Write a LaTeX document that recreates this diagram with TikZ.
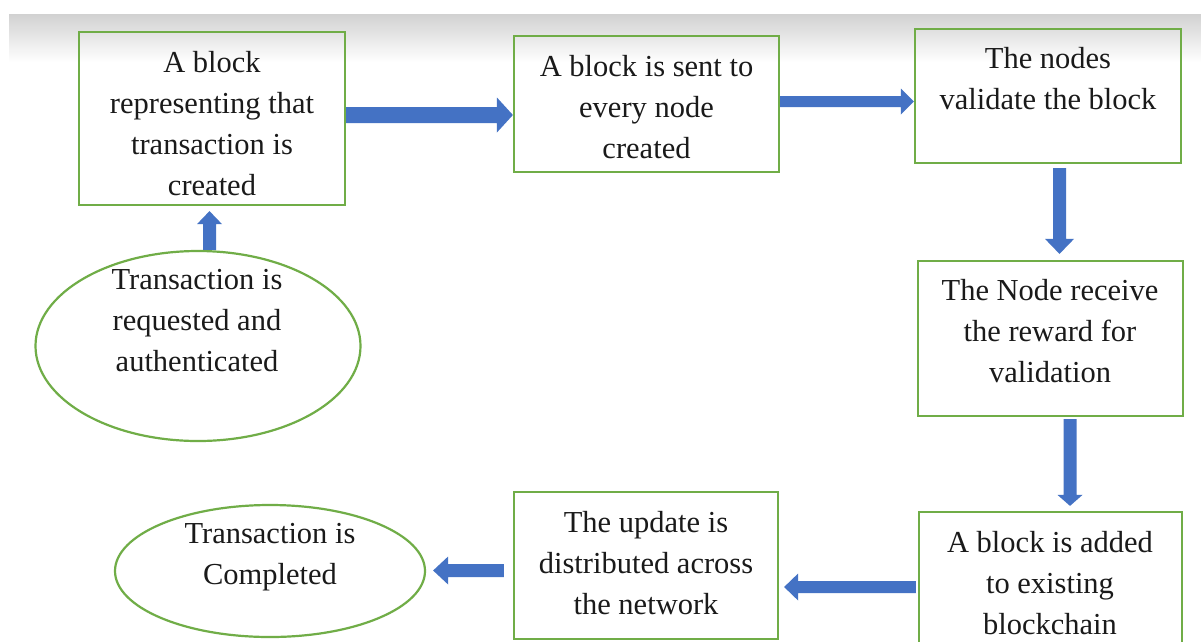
\documentclass[tikz,border=0pt]{standalone}
\usepackage{fontspec}
\setmainfont{Liberation Serif}
\usetikzlibrary{calc,shapes.geometric}

\definecolor{boxgreen}{HTML}{70AD47}
\definecolor{flowblue}{HTML}{4472C4}
\definecolor{inkgray}{HTML}{1A1A1A}

% Block arrow from #1 (tail) to #2 (tip): shaft half-width #3,
% head half-width #4, head length #5.
\newcommand\flowarrow[5]{%
  \coordinate (fa-base) at ($(#2)!#5!(#1)$);
  \fill[flowblue]
    ($(#1)!#3!90:(#2)$) -- ($(fa-base)!#3!90:(#2)$) --
    ($(fa-base)!#4!90:(#2)$) -- (#2) --
    ($(fa-base)!#4!-90:(#2)$) -- ($(fa-base)!#3!-90:(#2)$) --
    ($(#1)!#3!-90:(#2)$) -- cycle;
}

\tikzset{
  stepbox/.style={draw=boxgreen, line width=2.2pt, rectangle, inner sep=0pt},
  oval/.style={draw=boxgreen, line width=2.2pt, ellipse, inner sep=0pt},
  label text/.style={font=\fontsize{30.5}{41}\selectfont, align=center,
    text=inkgray, inner sep=0pt},
}

\begin{document}
\begin{tikzpicture}[x=1pt, y=-1pt]
  \useasboundingbox (0,0) rectangle (1201,641);
  \fill[white] (0,0) rectangle (1201,641);
  % header band
  \shade[top color=black!18, bottom color=white] (9,14) rectangle (1201,62);

  % boxes
  \node[stepbox, minimum width=266pt, minimum height=173pt] (A) at (212,118.5) {};
  \node[stepbox, minimum width=265pt, minimum height=136pt] (B) at (646.5,104) {};
  \node[stepbox, minimum width=266pt, minimum height=134pt] (C) at (1048,96) {};
  \node[stepbox, minimum width=265pt, minimum height=155pt] (D) at (1050.5,338.5) {};
  \node[stepbox, minimum width=263pt, minimum height=160pt] (E) at (1050.5,592) {};
  \node[stepbox, minimum width=264pt, minimum height=147pt] (F) at (646,565.5) {};
  \node[oval, minimum width=325pt, minimum height=190pt] (S) at (198,346) {};
  \node[oval, minimum width=310pt, minimum height=132pt] (T) at (270,571) {};

  % texts
  \node[label text] (At) at (212,124) {A block\\representing that\\transaction is\\created};
  \node[label text] (Bt) at (646.5,107) {A block is sent to\\every node\\created};
  \node[label text] (Ct) at (1048,79) {The nodes\\validate the block};
  \node[label text] (Dt) at (1050,331.5) {The Node receive\\the reward for\\validation};
  \node[label text] (Et) at (1050,583.5) {A block is added\\to existing\\blockchain};
  \node[label text] (Ft) at (646,563) {The update is\\distributed across\\the network};
  \node[label text] (St) at (197,320.5) {Transaction is\\requested and\\authenticated};
  \node[label text] (Tt) at (270,557) {Transaction is\\Completed};

  % connector end points
  \coordinate (s-a1) at (209.5,0 |- S.north);
  \coordinate (s-a2) at ($(209.5,0 |- A.south)+(0,5)$);
  \coordinate (a-b1) at (A.east |- 0,115);
  \coordinate (a-b2) at (B.west |- 0,115);
  \coordinate (b-c1) at (B.east |- 0,101.5);
  \coordinate (b-c2) at (C.west |- 0,101.5);
  \coordinate (c-d1) at ($(1059.5,0 |- C.south)+(0,4)$);
  \coordinate (c-d2) at ($(1059.5,0 |- D.north)+(0,-6)$);
  \coordinate (d-e1) at ($(1070,0 |- D.south)+(0,2)$);
  \coordinate (d-e2) at ($(1070,0 |- E.north)+(0,-5)$);
  \coordinate (e-f1) at ($(E.west |- 0,587)+(-2,0)$);
  \coordinate (e-f2) at ($(F.east |- 0,587)+(5,0)$);
  \coordinate (f-t1) at ($(F.west |- 0,570.5)+(-9,0)$);
  \coordinate (f-t2) at ($(T.east |- 0,570.5)+(7,0)$);

  % connectors
  \flowarrow{s-a1}{s-a2}{6.5pt}{12.5pt}{13pt}
  \flowarrow{a-b1}{a-b2}{8pt}{17.5pt}{16pt}
  \flowarrow{b-c1}{b-c2}{5.5pt}{13pt}{13pt}
  \flowarrow{c-d1}{c-d2}{6.5pt}{14.5pt}{15pt}
  \flowarrow{d-e1}{d-e2}{6.5pt}{12.5pt}{11pt}
  \flowarrow{e-f1}{e-f2}{6pt}{13.5pt}{14pt}
  \flowarrow{f-t1}{f-t2}{6.5pt}{14pt}{15pt}
\end{tikzpicture}
\end{document}
